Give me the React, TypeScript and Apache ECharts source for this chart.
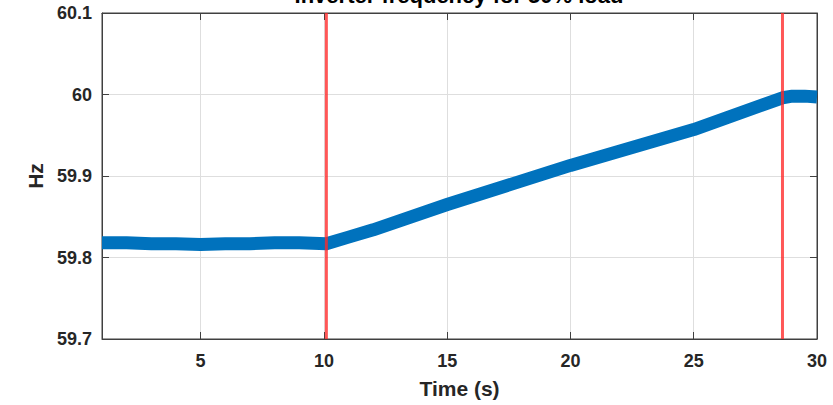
import React, { useEffect, useRef } from "react";
import * as echarts from "echarts";

const titleText = "Inverter frequency for 50% load";
const xName = "Time (s)";
const yName = "Hz";
const xTicks = [5, 10, 15, 20, 25, 30];
const yTicks = [59.7, 59.8, 59.9, 60, 60.1];
const times = [1, 2, 3, 4, 5, 6, 7, 8, 9, 10.1, 11, 12, 15, 20, 25, 28.6, 29, 29.5, 30];
const freqs = [59.818, 59.818, 59.817, 59.817, 59.816, 59.817, 59.817, 59.818, 59.818, 59.817, 59.825, 59.834, 59.865, 59.913, 59.957, 59.996, 59.998, 59.998, 59.997];
const eventTimes = [10.1, 28.6];

export default function App() {
  const ref = useRef<HTMLDivElement>(null);
  useEffect(() => {
    if (!ref.current) return;
    const chart = echarts.init(ref.current, null, { renderer: "svg" });
    const font = "Liberation Sans, Arial, Helvetica, sans-serif";
    const axisColor = "#404040";
    const textColor = "#262626";
    const band = times.map((t, i) => [t, freqs[i]]);
    const eventSeries = eventTimes.map((t) => ({
      type: "line",
      data: [
        [t, yTicks[0]],
        [t, yTicks[yTicks.length - 1]],
      ],
      symbol: "none",
      lineStyle: { color: "rgba(255,40,40,0.78)", width: 3 },
      z: 5,
      silent: true,
    }));
    chart.setOption({
      animation: false,
      grid: {
        left: 102,
        right: 16,
        top: 13,
        bottom: 66,
        show: true,
        borderColor: axisColor,
        borderWidth: 1,
        backgroundColor: "#fff",
      },
      graphic: [
        {
          type: "text",
          x: 459,
          y: -5,
          style: {
            text: titleText,
            fontFamily: font,
            fontWeight: "bold",
            fontSize: 22,
            fill: "#000",
            textAlign: "center",
            textVerticalAlign: "middle",
          },
        },
      ],
      xAxis: [
        {
          type: "value",
          min: 1,
          max: 30,
          name: xName,
          nameLocation: "middle",
          nameGap: 39,
          nameTextStyle: { fontFamily: font, fontWeight: "bold", fontSize: 21, color: textColor },
          axisLine: { show: true, lineStyle: { color: axisColor } },
          axisTick: { show: true, inside: true, length: 7, lineStyle: { color: axisColor }, customValues: xTicks },
          axisLabel: { customValues: xTicks, fontFamily: font, fontWeight: "bold", fontSize: 18, color: textColor, margin: 13 },
          splitLine: { show: true, lineStyle: { color: "#dedede", width: 1 } },
        },
        {
          type: "value",
          position: "top",
          min: 1,
          max: 30,
          axisLine: { show: true, lineStyle: { color: axisColor } },
          axisTick: { show: true, inside: true, length: 7, lineStyle: { color: axisColor }, customValues: xTicks },
          axisLabel: { show: false },
          splitLine: { show: false },
        },
      ],
      yAxis: [
        {
          type: "value",
          min: 59.7,
          max: 60.1,
          interval: 0.1,
          name: yName,
          nameLocation: "middle",
          nameGap: 54,
          nameRotate: 90,
          nameTextStyle: { fontFamily: font, fontWeight: "bold", fontSize: 21, color: textColor },
          axisLine: { show: true, lineStyle: { color: axisColor } },
          axisTick: { show: true, inside: true, length: 7, lineStyle: { color: axisColor } },
          axisLabel: {
            fontFamily: font,
            fontWeight: "bold",
            fontSize: 18,
            color: textColor,
            margin: 10,
            formatter: (v: number) => String(parseFloat(v.toFixed(1))),
          },
          splitLine: { show: true, lineStyle: { color: "#dedede", width: 1 } },
        },
        {
          type: "value",
          position: "right",
          min: 59.7,
          max: 60.1,
          interval: 0.1,
          axisLine: { show: true, lineStyle: { color: axisColor } },
          axisTick: { show: true, inside: true, length: 7, lineStyle: { color: axisColor } },
          axisLabel: { show: false },
          splitLine: { show: false },
        },
      ],
      series: [
        {
          type: "line",
          data: band,
          symbol: "none",
          lineStyle: { color: "#0072BD", width: 13, cap: "butt", join: "round" },
          z: 3,
          silent: true,
        },
        ...eventSeries,
      ],
    });
    return () => chart.dispose();
  }, []);
  return <div ref={ref} style={{ position: "absolute", left: 0, top: 0, width: 833, height: 405 }} />;
}
